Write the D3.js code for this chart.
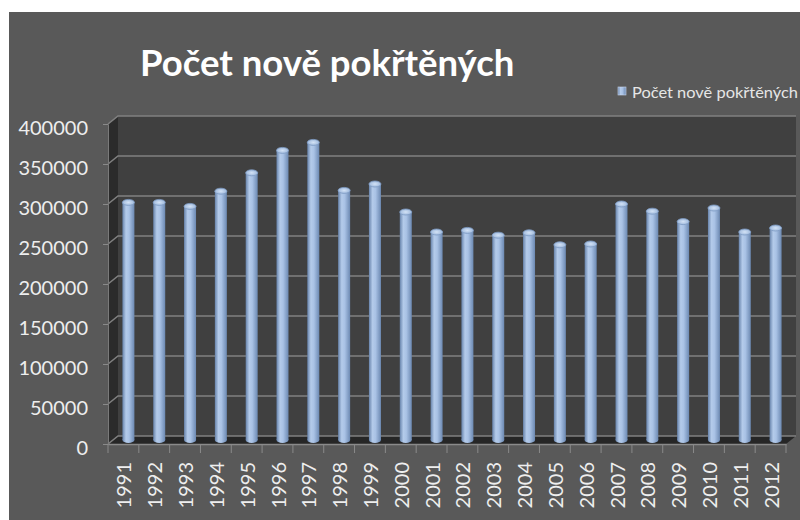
<!DOCTYPE html>
<html>
<head>
<meta charset="utf-8">
<script src="https://cdn.jsdelivr.net/npm/d3@7/dist/d3.min.js"></script>
<style>
    body { margin: 0; background: #fff; }
    svg text { font-family: Lato, "Open Sans", sans-serif; }
</style>
</head>
<body>
<div id="chart"></div>
<script>
// data
const roky = ["1991", "1992", "1993", "1994", "1995", "1996", "1997", "1998", "1999", "2000", "2001",
              "2002", "2003", "2004", "2005", "2006", "2007", "2008", "2009", "2010", "2011", "2012"];
const pokrteni = [297000, 297000, 292000, 311000, 334000, 362000, 372000, 312000, 320000, 285000, 260000,
                  262000, 256000, 259000, 244000, 245000, 295000, 286000, 273000, 290000, 260000, 265000];
const yTicks = [0, 50000, 100000, 150000, 200000, 250000, 300000, 350000, 400000];
const nazev = "Počet nově pokřtěných";
const legenda = "Počet nově pokřtěných";

// dimensions
const dim = { width: 800, height: 520 };
const hloubka = { dx: 10, dy: -8 };   // 3D depth offset of the back wall

const svg = d3.select("#chart")
    .append("svg")
        .attr("width", dim.width)
        .attr("height", dim.height);

// gradients for cylinders
const defs = svg.append("defs");
const grad = defs.append("linearGradient").attr("id", "valec").attr("x1", 0).attr("x2", 1).attr("y1", 0).attr("y2", 0);
[["0%", "#6783ab"], ["30%", "#b4cbea"], ["55%", "#a9c2e5"], ["100%", "#6c89b2"]]
    .forEach(([o, c]) => grad.append("stop").attr("offset", o).attr("stop-color", c));
const gradTop = defs.append("radialGradient").attr("id", "vicko");
gradTop.append("stop").attr("offset", "0%").attr("stop-color", "#d4e3f6");
gradTop.append("stop").attr("offset", "100%").attr("stop-color", "#9fb9dc");

// chart background
svg.append("rect")
    .attr("x", 9).attr("y", 12)
    .attr("width", dim.width - 9).attr("height", dim.height - 12)
    .attr("fill", "#595959");

// scales (front plane)
const x = d3.scaleBand().domain(roky).range([108, 786]);
const y = d3.scaleLinear().domain([0, 400000]).range([444, 124]);

const [x0, x1] = x.range();
const yb = y(0), yt = y(400000);
const { dx, dy } = hloubka;

// side wall, back wall, floor
svg.append("path")
    .attr("d", `M${x0},${yt} L${x0 + dx},${yt + dy} L${x0 + dx},${yb + dy} L${x0},${yb} Z`)
    .attr("fill", "#2b2b2b");
svg.append("rect")
    .attr("x", x0 + dx).attr("y", yt + dy)
    .attr("width", x1 - x0).attr("height", yb - yt)
    .attr("fill", "#404040");
svg.append("path")
    .attr("d", `M${x0},${yb} L${x1},${yb} L${x1 + dx},${yb + dy} L${x0 + dx},${yb + dy} Z`)
    .attr("fill", "#262626");

// gridlines
const mrizka = svg.append("g").attr("stroke", "#808080").attr("stroke-width", 1.6).attr("fill", "none");
yTicks.forEach(t => {
    mrizka.append("path")
        .attr("d", `M${x0},${y(t)} L${x0 + dx},${y(t) + dy} L${x1 + dx},${y(t) + dy}`);
});

// y axis
const yOsa = svg.append("g")
    .attr("transform", `translate(${x0},0)`)
    .call(d3.axisLeft(y).tickValues(yTicks).tickSize(5).tickPadding(15).tickFormat(d3.format("d")));
yOsa.select(".domain").attr("stroke", "#7a7a7a");
yOsa.selectAll(".tick line").attr("stroke", "#8a8a8a");
yOsa.selectAll(".tick text")
    .attr("fill", "#eeeeee")
    .attr("dy", "0.5em")
    .style("font-size", "20px");

// x axis
const xOsa = svg.append("g")
    .attr("transform", `translate(0,${yb})`)
    .call(d3.axisBottom(x).tickSize(0));
xOsa.select(".domain").attr("stroke", "#8a8a8a").attr("stroke-width", 1.5);
xOsa.selectAll(".tick text")
    .attr("transform", "rotate(-90)")
    .attr("text-anchor", "end")
    .attr("x", -18)
    .attr("y", 1)
    .attr("dy", "0.35em")
    .attr("fill", "#eeeeee")
    .style("font-size", "20px");
// tick marks between categories
xOsa.selectAll(".hranice")
    .data(roky.map(r => x(r)).concat([x1]))
    .join("line")
        .attr("class", "hranice")
        .attr("x1", d => d).attr("x2", d => d)
        .attr("y1", 0).attr("y2", 9)
        .attr("stroke", "#8a8a8a");

// cylinders
const sirka = 12;
const ry = 3;
const sloupce = svg.append("g")
    .selectAll("g")
    .data(roky.map((r, i) => ({ rok: r, hodnota: pokrteni[i] })))
    .join("g")
        .attr("transform", d => `translate(${x(d.rok) + x.bandwidth() / 2 + dx / 2},${dy / 2})`);

sloupce.append("ellipse")
    .attr("cx", 0).attr("cy", yb)
    .attr("rx", sirka / 2).attr("ry", ry)
    .attr("fill", "url(#valec)");
sloupce.append("rect")
    .attr("x", -sirka / 2).attr("y", d => y(d.hodnota))
    .attr("width", sirka).attr("height", d => yb - y(d.hodnota))
    .attr("fill", "url(#valec)");
sloupce.append("ellipse")
    .attr("cx", 0).attr("cy", d => y(d.hodnota))
    .attr("rx", sirka / 2).attr("ry", ry)
    .attr("fill", "url(#vicko)")
    .attr("stroke", "#7f9cc4")
    .attr("stroke-width", 0.8);

// title
svg.append("text")
    .attr("x", 140).attr("y", 76)
    .attr("fill", "#ffffff")
    .style("font-size", "36.5px")
    .style("font-weight", "bold")
    .text(nazev);

// legend
svg.append("rect")
    .attr("x", 618).attr("y", 87)
    .attr("width", 8).attr("height", 8)
    .attr("fill", "url(#valec)")
    .attr("stroke", "#c9d8ee").attr("stroke-width", 0.6);
svg.append("text")
    .attr("x", 632).attr("y", 98)
    .attr("fill", "#e6e6e6")
    .attr("textLength", 166)
    .attr("lengthAdjust", "spacingAndGlyphs")
    .style("font-size", "14.5px")
    .text(legenda);
</script>
</body>
</html>
